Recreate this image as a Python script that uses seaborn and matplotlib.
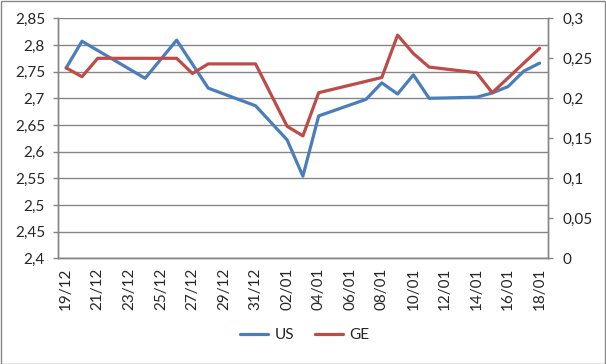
import pandas as pd
import matplotlib
matplotlib.use("Agg")
import matplotlib.pyplot as plt
import matplotlib.patches as patches
from matplotlib.lines import Line2D
import seaborn as sns

# values
us_dates = ['2018-12-19', '2018-12-20', '2018-12-24', '2018-12-26', '2018-12-28',
            '2018-12-31', '2019-01-02', '2019-01-03', '2019-01-04', '2019-01-07',
            '2019-01-08', '2019-01-09', '2019-01-10', '2019-01-11', '2019-01-14',
            '2019-01-15', '2019-01-16', '2019-01-17', '2019-01-18']
us_values = [2.757, 2.807, 2.7375, 2.809, 2.719, 2.686, 2.622, 2.554, 2.667, 2.698,
             2.729, 2.708, 2.744, 2.700, 2.702, 2.710, 2.722, 2.751, 2.766]

ge_dates = ['2018-12-19', '2018-12-20', '2018-12-21', '2018-12-26', '2018-12-27',
            '2018-12-28', '2018-12-31', '2019-01-02', '2019-01-03', '2019-01-04',
            '2019-01-08', '2019-01-09', '2019-01-10', '2019-01-11', '2019-01-14',
            '2019-01-15', '2019-01-18']
ge_values = [0.238, 0.227, 0.250, 0.250, 0.231, 0.243, 0.243, 0.165, 0.153, 0.207,
             0.226, 0.279, 0.256, 0.239, 0.232, 0.207, 0.2625]

left_ticks = [2.4, 2.45, 2.5, 2.55, 2.6, 2.65, 2.7, 2.75, 2.8, 2.85]
right_ticks = [0, 0.05, 0.1, 0.15, 0.2, 0.25, 0.3]

us_color = '#4A7EBB'
ge_color = '#BE4B48'
axis_color = '#868686'

sns.set_style("white")
plt.rcParams['font.family'] = ['Lato', 'DejaVu Sans']

us = pd.DataFrame({'date': pd.to_datetime(us_dates), 'value': us_values})
ge = pd.DataFrame({'date': pd.to_datetime(ge_dates), 'value': ge_values})

fig = plt.figure(figsize=(6.06, 3.64), dpi=100)
ax = fig.add_axes([58.3 / 606, 1 - 258.3 / 364, (547.5 - 58.3) / 606, (258.3 - 18.3) / 364])
ax2 = ax.twinx()

sns.lineplot(data=us, x='date', y='value', ax=ax, color=us_color, linewidth=2.3, legend=False)
sns.lineplot(data=ge, x='date', y='value', ax=ax2, color=ge_color, linewidth=2.3, legend=False)

start = pd.Timestamp('2018-12-19')
end = pd.Timestamp('2019-01-18')
half = pd.Timedelta(hours=12)
ax.set_xlim(start - half, end + half)

label_days = pd.date_range(start, end, freq='2D')
ax.set_xticks(label_days)
ax.set_xticklabels([d.strftime('%d/%m') for d in label_days], rotation=90)
ax.set_xticks(pd.date_range(start - half, end + half, freq='2D'), minor=True)
ax.tick_params(axis='x', which='major', length=0, pad=7, labelsize=11)
ax.tick_params(axis='x', which='minor', length=3.6, width=1, color=axis_color, direction='out')

ax.set_ylim(2.4, 2.85)
ax.set_yticks(left_ticks)
ax.set_yticklabels([f'{v:g}'.replace('.', ',') for v in left_ticks])
ax.tick_params(axis='y', length=3.6, width=1, color=axis_color, pad=6, labelsize=11, left=True)
ax.grid(axis='y', color=axis_color, linewidth=1)
ax.set_axisbelow(True)

ax2.set_ylim(0, 0.3)
ax2.set_yticks(right_ticks)
ax2.set_yticklabels([f'{v:g}'.replace('.', ',') for v in right_ticks])
ax2.tick_params(axis='y', length=3.6, width=1, color=axis_color, pad=7, labelsize=11, right=True)
ax2.grid(False)

for a in (ax, ax2):
    a.set_xlabel('')
    a.set_ylabel('')
    a.spines['top'].set_visible(False)
    for s in ('left', 'right', 'bottom'):
        a.spines[s].set_color(axis_color)
        a.spines[s].set_linewidth(1)

handles = [Line2D([], [], color=us_color, linewidth=2.3),
           Line2D([], [], color=ge_color, linewidth=2.3)]
fig.legend(handles, ['US', 'GE'], loc='center', bbox_to_anchor=(0.503, 1 - 335 / 364),
           ncol=2, frameon=False, fontsize=11, handlelength=1.85, handletextpad=0.45,
           columnspacing=1.3)

fig.patches.append(patches.Rectangle((0.5 / 606, 0.5 / 364), 1 - 1.5 / 606, 1 - 1.5 / 364,
                                     transform=fig.transFigure, fill=False,
                                     edgecolor=axis_color, linewidth=1))

fig.savefig('out.png', dpi=100)
